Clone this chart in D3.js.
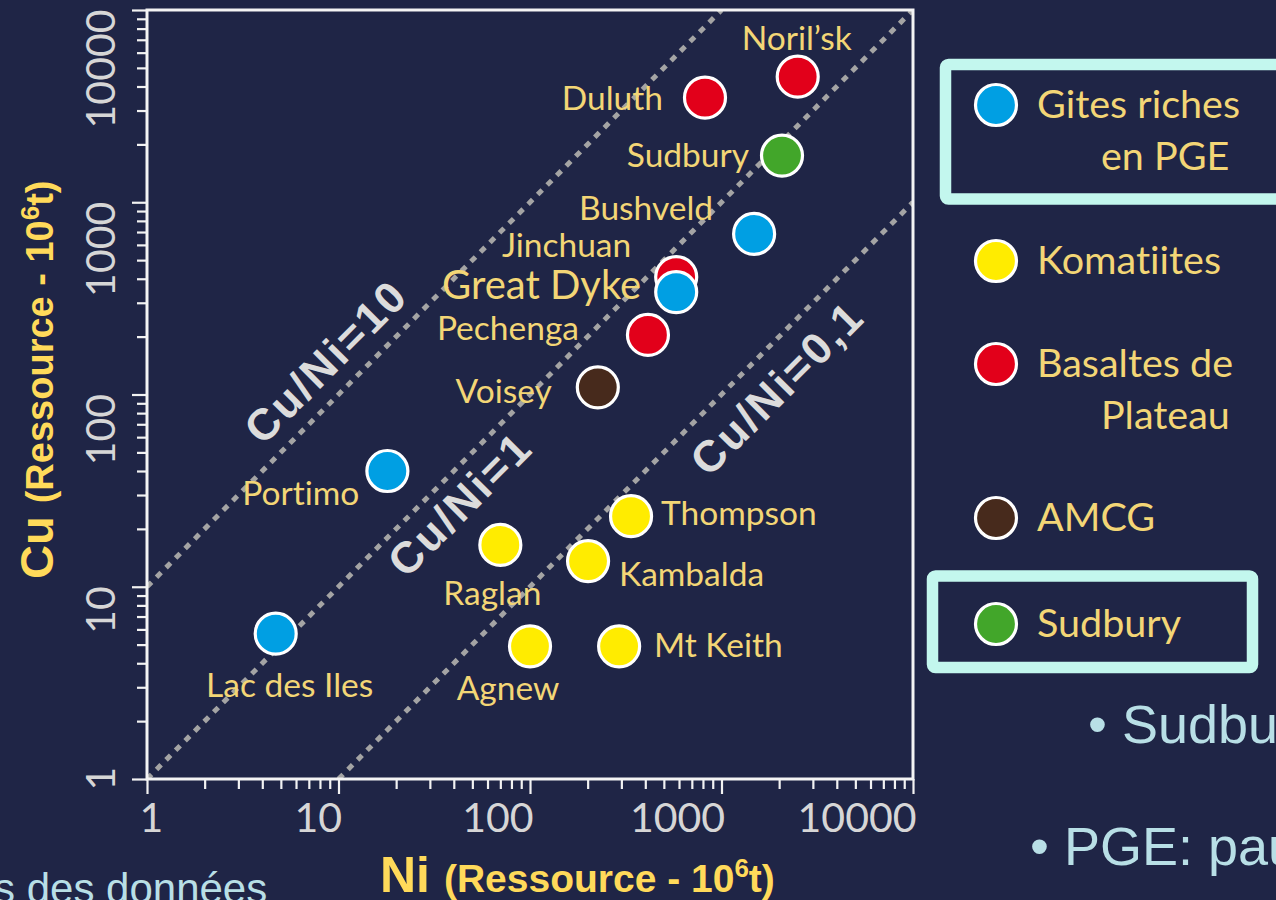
<!DOCTYPE html>
<html>
<head>
<meta charset="utf-8">
<script src="https://cdn.jsdelivr.net/npm/d3@7"></script>
<style>
  html, body { margin: 0; padding: 0; background: #1f2546; overflow: hidden; }
  svg { display: block; }
  text { font-variant-ligatures: none; font-feature-settings: "liga" 0, "dlig" 0; }
</style>
</head>
<body>
<svg id="chart" width="1276" height="900"></svg>
<script>
// ---- data: Cu and Ni resources (10^6 t) of magmatic sulphide deposits ----
const siteNames   = ["Noril’sk", "Duluth", "Sudbury", "Bushveld", "Jinchuan", "Great Dyke", "Pechenga", "Voisey",
                     "Portimo", "Thompson", "Raglan", "Kambalda", "Lac des Iles", "Agnew", "Mt Keith"];
const niResource  = [2500, 820, 2070, 1480, 580, 580, 413, 226, 18, 337, 70, 201, 4.7, 100, 292];
const cuResource  = [4500, 3500, 1750, 684, 408, 341, 204, 109, 40, 23.3, 16.5, 13.6, 5.7, 4.9, 4.9];
const siteGroup   = ["basalt", "basalt", "sudbury", "pge", "basalt", "pge", "basalt", "amcg",
                     "pge", "komatiite", "komatiite", "komatiite", "pge", "komatiite", "komatiite"];

const groupKeys   = ["pge", "komatiite", "basalt", "amcg", "sudbury"];
const groupLabels = [["Gites riches", "en PGE"], ["Komatiites"], ["Basaltes de", "Plateau"], ["AMCG"], ["Sudbury"]];
const groupColors = ["#009fe3", "#ffec00", "#e2001a", "#472a1c", "#42a62a"];

const ratioValues = [10, 1, 0.1];
const ratioLabels = ["Cu/Ni=10", "Cu/Ni=1", "Cu/Ni=0,1"];

const tickValues  = [1, 10, 100, 1000, 10000];
const tickLabels  = ["1", "10", "100", "1000", "10000"];

const bulletLines = ["• Sudbury", "• PGE: pauvres"];
const footNote    = "s des données";

// ---- layout ----
const svg = d3.select("#chart");
const W = 1276, H = 900;
const plot = { left: 147, right: 913, top: 10, bottom: 779 };

const labelFont = "Lato, 'Liberation Sans', Arial, sans-serif";
const labelColor = "#f3d676";
const titleColor = "#ffda5a";
const tickColor = "#d6d6d6";

svg.append("rect").attr("width", W).attr("height", H).attr("fill", "#1f2546");

const x = d3.scaleLog().domain([1, 10000]).range([plot.left, plot.right]);
const y = d3.scaleLog().domain([1, 10000]).range([plot.bottom, plot.top]);
const color = d3.scaleOrdinal().domain(groupKeys).range(groupColors);

// ---- clip for the plot area ----
svg.append("defs").append("clipPath").attr("id", "plotClip")
  .append("rect")
  .attr("x", plot.left).attr("y", plot.top)
  .attr("width", plot.right - plot.left).attr("height", plot.bottom - plot.top);

// ---- axes ----
const minorTicks = x.ticks().filter(v => !tickValues.includes(v));

function styleAxis(g) {
  g.select(".domain").remove();
  g.selectAll(".tick line").attr("stroke", "#f2f2f2").attr("stroke-width", 2.2);
}

svg.append("g")
  .attr("transform", `translate(0,${plot.bottom})`)
  .call(d3.axisBottom(x).tickValues(minorTicks).tickSize(10).tickFormat(""))
  .call(styleAxis);

const xMajor = svg.append("g")
  .attr("transform", `translate(0,${plot.bottom})`)
  .call(d3.axisBottom(x).tickValues(tickValues).tickSize(15).tickFormat((d, i) => tickLabels[i]))
  .call(styleAxis);
xMajor.selectAll(".tick text")
  .attr("fill", tickColor)
  .attr("font-family", labelFont)
  .attr("font-weight", 400)
  .attr("font-size", 41)
  .attr("y", 53).attr("dy", 0)
  .attr("text-anchor", (d, i) => i === 0 ? "middle" : "end")
  .attr("x", (d, i) => i === 0 ? 4 : 3);

svg.append("g")
  .attr("transform", `translate(${plot.left},0)`)
  .call(d3.axisLeft(y).tickValues(minorTicks).tickSize(10).tickFormat(""))
  .call(styleAxis);

const yMajor = svg.append("g")
  .attr("transform", `translate(${plot.left},0)`)
  .call(d3.axisLeft(y).tickValues(tickValues).tickSize(15).tickFormat((d, i) => tickLabels[i]))
  .call(styleAxis);
yMajor.selectAll(".tick text")
  .attr("fill", tickColor)
  .attr("font-family", labelFont)
  .attr("font-weight", 400)
  .attr("font-size", 41)
  .attr("x", 0).attr("y", 0).attr("dy", 0)
  .attr("text-anchor", (d, i) => i === 0 ? "middle" : "end")
  .attr("transform", "translate(-32,-1) rotate(-90)");

// ---- ratio lines ----
const angle = Math.atan2(y(10) - y(1), x(10) - x(1)) * 180 / Math.PI;
const ratioLayer = svg.append("g").attr("clip-path", "url(#plotClip)");
ratioValues.forEach(r => {
  const n0 = Math.max(1, 1 / r), n1 = Math.min(10000, 10000 / r);
  ratioLayer.append("line")
    .attr("x1", x(n0)).attr("y1", y(n0 * r))
    .attr("x2", x(n1)).attr("y2", y(n1 * r))
    .attr("stroke", "#a4a4a4")
    .attr("stroke-width", 5)
    .attr("stroke-dasharray", "6.5 7");
});

// ratio labels: Ni position along the line and offset across it
const ratioLabelAt = [{ ni: 11.3, dy: -17 }, { ni: 34, dy: 43 }, { ni: 1450, dy: 50 }];
ratioValues.forEach((r, i) => {
  const p = ratioLabelAt[i];
  svg.append("text")
    .attr("transform", `translate(${x(p.ni)},${y(p.ni * r)}) rotate(${angle})`)
    .attr("y", p.dy)
    .attr("text-anchor", "middle")
    .attr("font-family", "'Liberation Sans', Arial, sans-serif")
    .attr("font-weight", "bold")
    .attr("font-size", 44)
    .attr("letter-spacing", 2.5)
    .attr("fill", "#dcdcdc")
    .text(ratioLabels[i]);
});

// ---- frame ----
svg.append("rect")
  .attr("x", plot.left).attr("y", plot.top)
  .attr("width", plot.right - plot.left).attr("height", plot.bottom - plot.top)
  .attr("fill", "none").attr("stroke", "#f4f4f4").attr("stroke-width", 3);

// ---- deposits ----
const sites = siteNames.map((name, i) => ({ name, ni: niResource[i], cu: cuResource[i], group: siteGroup[i] }));

svg.append("g").selectAll("circle")
  .data(sites)
  .join("circle")
  .attr("cx", d => x(d.ni))
  .attr("cy", d => y(d.cu))
  .attr("r", 20.5)
  .attr("fill", d => color(d.group))
  .attr("stroke", "#ffffff")
  .attr("stroke-width", 3.2);

const labelPlacement = {
  "Noril’sk":     { anchor: "middle", dx: -1,  dy: -27 },
  "Duluth":       { anchor: "end",    dx: -42, dy: 12 },
  "Sudbury":      { anchor: "end",    dx: -33, dy: 11 },
  "Bushveld":     { anchor: "end",    dx: -41, dy: -14 },
  "Jinchuan":     { anchor: "end",    dx: -45, dy: -20 },
  "Great Dyke":   { anchor: "end",    dx: -35, dy: 7, size: 40 },
  "Pechenga":     { anchor: "end",    dx: -69, dy: 5 },
  "Voisey":       { anchor: "end",    dx: -46, dy: 16 },
  "Portimo":      { anchor: "end",    dx: -28, dy: 34 },
  "Thompson":     { anchor: "start",  dx: 30,  dy: 9 },
  "Raglan":       { anchor: "middle", dx: -8,  dy: 60 },
  "Kambalda":     { anchor: "start",  dx: 31,  dy: 25 },
  "Lac des Iles": { anchor: "middle", dx: 14,  dy: 63 },
  "Agnew":        { anchor: "middle", dx: -22, dy: 54 },
  "Mt Keith":     { anchor: "start",  dx: 35,  dy: 11 }
};

svg.append("g").selectAll("text")
  .data(sites)
  .join("text")
  .attr("x", d => x(d.ni) + labelPlacement[d.name].dx)
  .attr("y", d => y(d.cu) + labelPlacement[d.name].dy)
  .attr("text-anchor", d => labelPlacement[d.name].anchor)
  .attr("font-family", labelFont)
  .attr("font-size", d => labelPlacement[d.name].size || 33.5)
  .attr("fill", labelColor)
  .text(d => d.name);

// ---- axis titles ----
const boldFont = "'Liberation Sans', Arial, sans-serif";
const xTitle = svg.append("text")
  .attr("x", 380).attr("y", 892)
  .attr("font-family", boldFont).attr("font-weight", "bold")
  .attr("fill", titleColor);
xTitle.append("tspan").attr("font-size", 50).text("Ni ");
xTitle.append("tspan").attr("font-size", 39).text("(Ressource - 10");
xTitle.append("tspan").attr("font-size", 26).attr("dy", -15).text("6");
xTitle.append("tspan").attr("font-size", 39).attr("dy", 15).text("t)");

const yTitle = svg.append("text")
  .attr("transform", "translate(53,579) rotate(-90)")
  .attr("font-family", boldFont).attr("font-weight", "bold")
  .attr("fill", titleColor);
yTitle.append("tspan").attr("font-size", 47).text("Cu ");
yTitle.append("tspan").attr("font-size", 38).text("(Ressource - 10");
yTitle.append("tspan").attr("font-size", 26).attr("dy", -14).text("6");
yTitle.append("tspan").attr("font-size", 38).attr("dy", 14).text("t)");

// ---- legend ----
const legendY = [105, 261, 364, 518, 624];
const legend = svg.append("g");

// highlight frames around two legend entries
legend.append("rect")
  .attr("x", 945.5).attr("y", 64.5).attr("width", 400).attr("height", 134.5)
  .attr("rx", 3)
  .attr("fill", "none").attr("stroke", "#c3f7ee").attr("stroke-width", 11.5);
legend.append("rect")
  .attr("x", 932.5).attr("y", 576).attr("width", 320).attr("height", 91.5)
  .attr("rx", 3)
  .attr("fill", "none").attr("stroke", "#c3f7ee").attr("stroke-width", 11.5);

groupKeys.forEach((k, i) => {
  const gy = legendY[i];
  legend.append("circle")
    .attr("cx", 996).attr("cy", gy).attr("r", 20.5)
    .attr("fill", color(k)).attr("stroke", "#ffffff").attr("stroke-width", 3.2);
  groupLabels[i].forEach((line, j) => {
    legend.append("text")
      .attr("x", j === 0 ? 1037 : 1101)
      .attr("y", gy + 13 + j * 52)
      .attr("font-family", labelFont)
      .attr("font-size", 39.5)
      .attr("fill", labelColor)
      .text(line);
  });
});

// ---- slide text ----
const slideFont = "'Liberation Sans', Arial, sans-serif";
svg.append("text").attr("x", 1088).attr("y", 743)
  .attr("font-family", slideFont).attr("font-size", 54).attr("fill", "#b8dfe6")
  .text(bulletLines[0]);
svg.append("text").attr("x", 1030).attr("y", 865)
  .attr("font-family", slideFont).attr("font-size", 54).attr("fill", "#b8dfe6")
  .text(bulletLines[1]);
svg.append("text").attr("x", -6).attr("y", 903)
  .attr("font-family", slideFont).attr("font-size", 42).attr("fill", "#b8dfe6")
  .text(footNote);
</script>
</body>
</html>
